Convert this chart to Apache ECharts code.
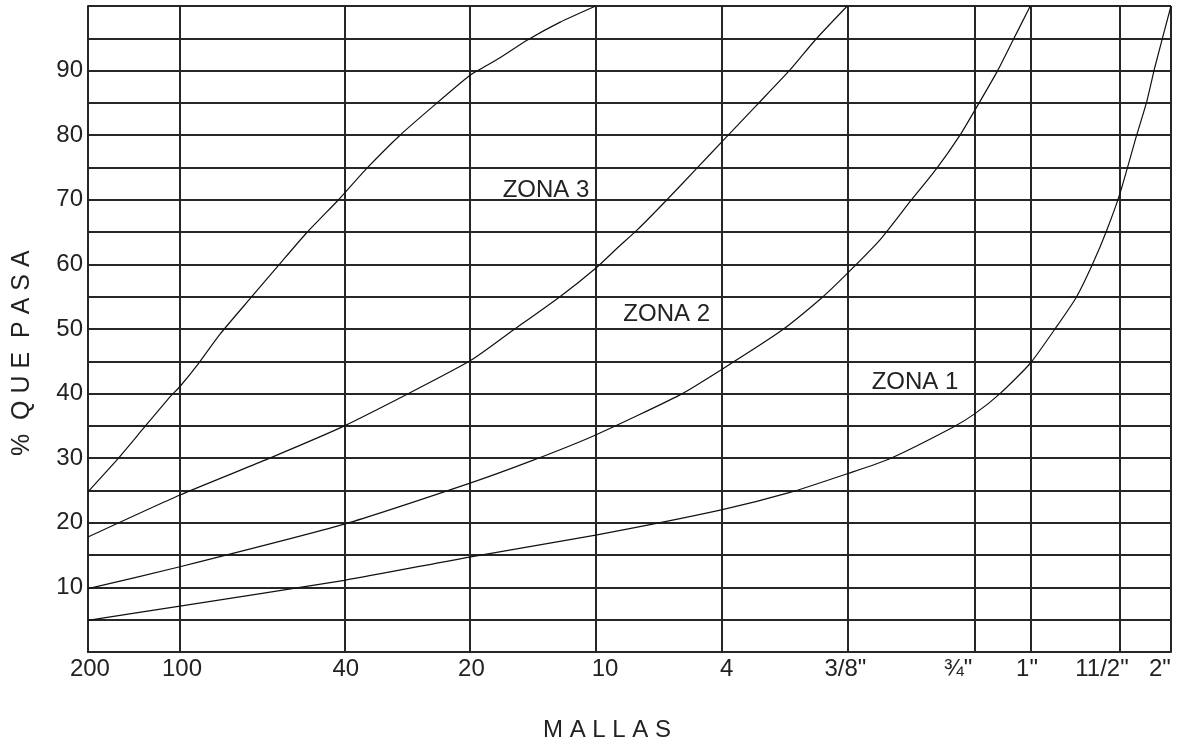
<!DOCTYPE html>
<html>
<head>
<meta charset="utf-8">
<script src="https://cdn.jsdelivr.net/npm/echarts@6/dist/echarts.min.js"></script>
<style>
html,body{margin:0;padding:0;background:#fff;}
#chart{width:1177px;height:742px;}
</style>
</head>
<body>
<div id="chart"></div>
<script>
// Sieve (malla) positions along the horizontal scale (0..100 units)
var sieveNames = ['200', '100', '40', '20', '10', '4', '3/8"', '\u00BE"', '1"', '11/2"', '2"'];
var sievePos   = [0, 8.49, 23.67, 35.21, 46.88, 58.48, 70.11, 81.90, 87.01, 95.29, 100];
// where each tick label is printed (labels are offset from lines at the right end)
var labelPos   = [0.18, 8.68, 23.8, 35.4, 47.74, 58.97, 69.94, 80.33, 86.7, 93.63, 98.98];

// Y ticks
var yTickLabels = [10, 20, 30, 40, 50, 60, 70, 80, 90];

// Curves: [horizontal position, % que pasa]
var curveA = [[0, 24.8], [2.65, 29.7], [5.11, 34.6], [7.57, 39.5], [8.49, 41.1], [10.18, 44.6],
  [12.19, 49.2], [15.12, 55], [17.57, 59.8], [20.19, 64.9], [22.96, 69.7], [23.67, 71],
  [25.76, 74.9], [28.81, 80], [32.23, 85], [35.21, 89.2], [36.2, 90.2], [38.04, 92],
  [40.54, 94.7], [43.6, 97.5], [46.88, 100]];
var curveB = [[0, 17.8], [8.49, 24.3], [16.34, 29.7], [23.67, 35], [35.21, 45], [39.24, 49.8],
  [43.58, 55], [46.88, 59.4], [48.85, 62.5], [50.69, 65.3], [53.28, 69.7], [56.23, 74.9],
  [58.48, 78.9], [61.77, 84.7], [64.82, 90.1], [67.13, 94.7], [70.11, 100]];
var curveC = [[0, 9.8], [8.49, 13.2], [23.67, 19.8], [35.21, 26.1], [40.81, 29.5], [46.88, 33.6],
  [54.66, 39.8], [58.48, 43.7], [63.9, 49.6], [67.87, 55], [70.11, 58.6], [73.13, 63.8],
  [75.9, 69.7], [78.39, 74.9], [80.52, 80], [81.9, 83.9], [83.93, 89.8], [85.41, 94.7], [87.01, 100]];
var curveD = [[0, 4.9], [8.49, 7.1], [23.67, 11.1], [35.21, 14.7], [46.88, 18.1], [58.48, 22],
  [64.82, 24.7], [70.11, 27.6], [73.87, 29.8], [79.87, 34.8], [81.9, 36.9], [84.21, 40],
  [87.01, 44.7], [89.45, 50.4], [91.29, 55], [92.8, 60.2], [94.07, 65.3], [95.29, 71],
  [96.83, 80], [97.76, 85.2], [98.52, 90.6], [100, 100]];

// Zone annotations [position, %, text]
var zoneLabels = [[42.29, 71.5, 'ZONA 3'], [53.43, 52.2, 'ZONA 2'], [76.36, 41.8, 'ZONA 1']];

var gridColor = '#262626';
var textColor = '#222';
var font = 'Liberation Sans, Arial, sans-serif';

function curveSeries(data) {
  return {
    type: 'line', data: data, showSymbol: false, smooth: 0.2,
    lineStyle: {color: '#111', width: 1.2}, silent: true, z: 5
  };
}

var chart = echarts.init(document.getElementById('chart'));
var series = [curveSeries(curveA), curveSeries(curveB), curveSeries(curveC), curveSeries(curveD)];
series[0].markLine = {
  silent: true, symbol: 'none', label: {show: false},
  lineStyle: {color: gridColor, width: 2, type: 'solid'},
  data: sievePos.map(function (v) { return {xAxis: v}; })
};
series.push({
  type: 'scatter', symbolSize: 0, silent: true,
  itemStyle: {opacity: 1, color: textColor},
  data: zoneLabels.map(function (z) { return {value: [z[0], z[1]], name: z[2]}; }),
  label: {show: true, position: 'inside', formatter: '{b}', color: textColor, fontSize: 24, fontFamily: font}
});

chart.setOption({
  animation: false,
  backgroundColor: '#fff',
  grid: {left: 88, right: 6, top: 6, bottom: 90},
  xAxis: {
    type: 'value', min: 0, max: 100,
    axisLine: {show: true, lineStyle: {color: gridColor, width: 2}},
    axisTick: {show: false},
    splitLine: {show: false},
    axisLabel: {
      customValues: labelPos, margin: 5, fontSize: 24, color: textColor, fontFamily: font,
      showMinLabel: true, showMaxLabel: true,
      formatter: function (v) {
        var i = labelPos.indexOf(v);
        return i >= 0 ? sieveNames[i] : '';
      }
    }
  },
  yAxis: {
    type: 'value', min: 0, max: 100, interval: 5,
    axisLine: {show: true, lineStyle: {color: gridColor, width: 2}},
    axisTick: {show: false},
    splitLine: {show: true, lineStyle: {color: gridColor, width: 2}},
    axisLabel: {
      margin: 5, fontSize: 24, color: textColor, fontFamily: font,
      formatter: function (v) { return yTickLabels.indexOf(v) >= 0 ? String(v) : ''; }
    }
  },
  graphic: [
    {type: 'text', left: 543, top: 718, style: {text: 'M A L L A S', fontSize: 24, fontFamily: font, fill: textColor}},
    {type: 'text', x: 10, y: 456, rotation: Math.PI / 2,
      style: {text: '%  Q U E  P A S A', fontSize: 25, fontFamily: font, fill: textColor, textAlign: 'left', textVerticalAlign: 'top'}}
  ],
  series: series
});
</script>
</body>
</html>
